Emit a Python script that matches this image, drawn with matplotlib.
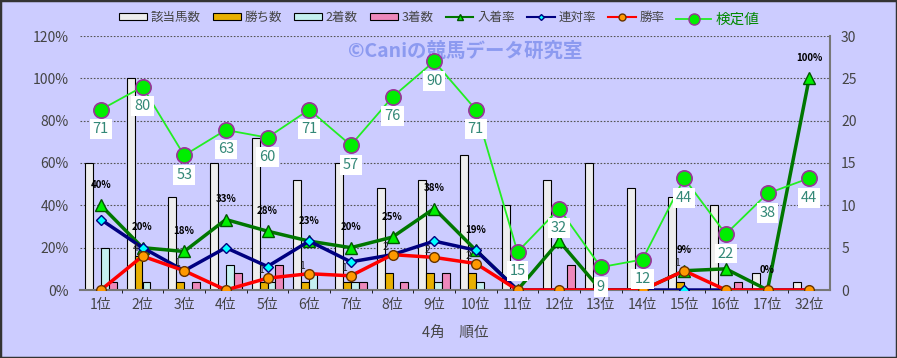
import numpy as np
import matplotlib.pyplot as plt
from matplotlib.patches import Rectangle
from matplotlib.lines import Line2D

plt.rcParams['font.family'] = ['Noto Sans CJK JP', 'DejaVu Sans']

positions = ['1位', '2位', '3位', '4位', '5位', '6位', '7位', '8位', '9位', '10位',
             '11位', '12位', '13位', '14位', '15位', '16位', '17位', '32位']

# counts (right axis)
horses = [15, 25, 11, 15, 18, 13, 15, 12, 13, 16, 10, 13, 15, 12, 11, 10, 2, 1]
wins = [0, 4, 1, 0, 1, 1, 1, 2, 2, 2, 0, 0, 0, 0, 1, 0, 0, 0]
seconds = [5, 1, 0, 3, 1, 2, 1, 0, 1, 1, 0, 0, 0, 0, 0, 0, 0, 0]
thirds = [1, 0, 1, 2, 3, 0, 1, 1, 2, 0, 0, 3, 0, 0, 0, 1, 0, 0]

# rates (left axis, %)
place_rate = [40, 20, 18.2, 33.3, 27.8, 23.1, 20, 25, 38.5, 18.8, 0, 23.1, 0, 0, 9.1, 10, 0, 100]
place_labels = ['40%', '20%', '18%', '33%', '28%', '23%', '20%', '25%', '38%', '19%',
                '', '', '', '', '9%', '', '0%', '100%']
top2_rate = [33.3, 20, 9.1, 20, 11.1, 23.1, 13.3, 16.7, 23.1, 18.8, 0, 0, 0, 0, 0, 0, 0, 0]
win_rate = [0, 16, 9.1, 0, 5.6, 7.7, 6.7, 16.7, 15.4, 12.5, 0, 0, 0, 0, 9.1, 0, 0, 0]

# 検定値
kentei = [71, 80, 53, 63, 60, 71, 57, 76, 90, 71, 15, 32, 9, 12, 44, 22, 38, 44]

x = np.arange(len(positions))
W, H = 897, 358
fig = plt.figure(figsize=(W / 100, H / 100), dpi=100, facecolor='#CCCCFF')
fig.patches.append(Rectangle((0, 0), 1, 1, transform=fig.transFigure, fill=False,
                             edgecolor='#333333', lw=2.5))

rect = [80 / W, (H - 290) / H, 750 / W, 254 / H]
ax = fig.add_axes(rect)          # percent (left)
axr = ax.twinx()                 # counts (right)
ax.set_zorder(axr.get_zorder() + 1)
ax.patch.set_visible(False)
axr.patch.set_facecolor('#FFFFCC')
axk = ax.twinx()                 # 検定値 (hidden, 0-100)
axk.set_zorder(ax.get_zorder() + 1)
axk.patch.set_visible(False)

# bars
bw = 0.19
bar_styles = [(horses, '#EEEEEE'), (wins, '#E8B000'), (seconds, '#C4F0F0'), (thirds, '#EE88BB')]
for i, (vals, col) in enumerate(bar_styles):
    axr.bar(x + (i - 1.5) * bw, vals, width=bw, color=col, edgecolor='black', lw=0.8, zorder=2)
axr.set_ylim(0, 30)
axr.set_yticks(range(0, 31, 5))
axr.set_xlim(-0.5, len(x) - 0.5)
axr.set_xticks(np.arange(0.5, len(x) - 1, 1), minor=True)
axr.grid(True, which='minor', axis='x', color='#555555', ls=(0, (1.5, 1.5)), lw=0.8, zorder=0)
axr.grid(True, which='major', axis='y', color='#555555', ls=(0, (1.5, 1.5)), lw=0.8, zorder=0)
axr.set_axisbelow(True)
axr.tick_params(axis='y', colors='#444444', labelsize=10, length=0, pad=8)
axr.tick_params(axis='x', which='both', length=0)

# rate lines
ax.plot(x, place_rate, color='#007700', lw=2.5, marker='^', ms=8, mfc='#00EE00', mec='#005500', zorder=3)
ax.plot(x, top2_rate, color='#000080', lw=2.5, marker='D', ms=5, mfc='#00FFFF', mec='#000080', zorder=4)
ax.plot(x, win_rate, color='#FF0000', lw=2.5, marker='o', ms=7, mfc='#FF9900', mec='#663300', zorder=5)
for xi, v, lab in zip(x, place_rate, place_labels):
    if lab:
        ax.annotate(lab, (xi, v), xytext=(0, 11), textcoords='offset points', ha='center',
                    va='bottom', fontsize=7, fontweight='bold', color='black', zorder=6)
for xi, v, n in zip(x, win_rate, wins):
    if n:
        ax.annotate(str(n), (xi, v), xytext=(-5, 2), textcoords='offset points', ha='center',
                    va='bottom', fontsize=7.5, color='#222222', zorder=6)
ax.set_ylim(0, 120)
ax.set_yticks(range(0, 121, 20))
ax.set_yticklabels([f'{v}%' for v in range(0, 121, 20)])
ax.set_xlim(-0.5, len(x) - 0.5)
ax.set_xticks(x)
ax.set_xticklabels(positions)
ax.tick_params(axis='y', colors='#444444', labelsize=10, length=0, pad=8)
ax.tick_params(axis='x', colors='#444444', labelsize=10, length=0, pad=6)
ax.set_xlabel('4角　順位', color='#444444', fontsize=10.5, labelpad=10)

# 検定値
axk.plot(x, kentei, color='#22EE22', lw=1.3, marker='o', ms=11, mfc='#00EE00', mec='#993399', mew=1.2, zorder=3)
for xi, v in zip(x, kentei):
    axk.annotate(str(v), (xi, v), xytext=(0, -14), textcoords='offset points', ha='center',
                 va='center', fontsize=10.5, color='#338877', zorder=6,
                 bbox=dict(boxstyle='square,pad=0.2', fc='white', ec='none'))
axk.set_ylim(0, 100)
axk.set_yticks([])
axk.set_xlim(-0.5, len(x) - 0.5)

for a in (ax, axr, axk):
    for s in a.spines.values():
        s.set_visible(False)
axr.spines['bottom'].set_visible(True)
axr.spines['bottom'].set_color('#777777')
axr.spines['bottom'].set_linewidth(1.5)
axr.spines['right'].set_visible(True)
axr.spines['right'].set_color('#777777')
axr.spines['right'].set_linewidth(1.5)

ax.text(0.513, 0.94, '©Caniの競馬データ研究室', transform=ax.transAxes, ha='center', va='center',
        fontsize=14, fontweight='bold', color='#8C9AF0', zorder=7)

# legend
handles = [Rectangle((0, 0), 1, 1, fc=c, ec='black', lw=0.8) for _, c in bar_styles]
handles += [Line2D([], [], color='#007700', lw=1.5, marker='^', ms=5, mfc='#00EE00', mec='#005500'),
            Line2D([], [], color='#000080', lw=1.5, marker='D', ms=3, mfc='#00FFFF', mec='#000080'),
            Line2D([], [], color='#FF0000', lw=1.5, marker='o', ms=5, mfc='#FF9900', mec='#663300')]
labels = ['該当馬数', '勝ち数', '2着数', '3着数', '入着率', '連対率', '勝率']
fig.legend(handles, labels, loc='center', bbox_to_anchor=(392 / W, 1 - 17 / H), ncol=7,
           frameon=False, fontsize=9, handlelength=2.2, handleheight=0.5, handletextpad=0.3,
           columnspacing=1.0, labelcolor='#444444')
fig.legend([Line2D([], [], color='#22EE22', lw=1.3, marker='o', ms=8, mfc='#00EE00', mec='#993399')],
           ['検定値'], loc='center', bbox_to_anchor=(718 / W, 1 - 20 / H), frameon=False,
           fontsize=10.5, handlelength=2.4, handletextpad=0.3, labelcolor='#008800')

fig.savefig('out.png', dpi=100, facecolor=fig.get_facecolor())
